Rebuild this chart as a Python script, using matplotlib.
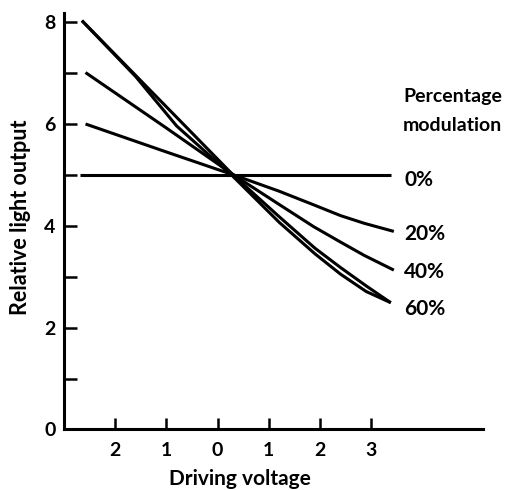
import matplotlib
matplotlib.use('Agg')
import matplotlib.pyplot as plt

# Data (driving voltage, relative light output)
x_0 = [-2.68, 3.38]
y_0 = [5.0, 5.0]

x_20 = [-2.58, -1.0, 0.31, 1.2, 1.88, 2.4, 2.86, 3.44]
y_20 = [6.0, 5.45, 5.0, 4.68, 4.41, 4.2, 4.05, 3.89]

x_40 = [-2.58, -1.0, 0.31, 1.2, 1.88, 2.4, 2.86, 3.44]
y_40 = [7.01, 5.92, 5.0, 4.42, 3.98, 3.68, 3.42, 3.13]

x_60a = [-2.65, -1.5, 0.3, 1.2, 1.9, 2.4, 2.9, 3.38]
y_60a = [8.03, 6.85, 5.0, 4.18, 3.56, 3.18, 2.82, 2.49]

x_60b = [-2.65, -1.6, -0.8, 0.3, 1.2, 1.9, 2.4, 2.9, 3.38]
y_60b = [8.03, 6.93, 5.96, 4.97, 4.07, 3.45, 3.05, 2.71, 2.49]

series_labels = ['0%', '20%', '40%', '60%']
label_y = [4.9, 3.84, 3.09, 2.37]

plt.rcParams['font.family'] = ['Lato', 'DejaVu Sans']
plt.rcParams['font.weight'] = 'bold'

fig = plt.figure(figsize=(5.1, 4.9), dpi=100)
ax = fig.add_axes([0.1255, 0.1235, 0.8215, 0.85])

lw = 2.2
for xs, ys in [(x_0, y_0), (x_20, y_20), (x_40, y_40), (x_60a, y_60a), (x_60b, y_60b)]:
    ax.plot(xs, ys, color='black', lw=lw, solid_capstyle='butt')

ax.set_xlim(-3.0, 5.18)
ax.set_ylim(0, 8.18)

ax.spines['top'].set_visible(False)
ax.spines['right'].set_visible(False)
ax.spines['left'].set_linewidth(2.2)
ax.spines['bottom'].set_linewidth(2.2)

ax.set_xticks([-2, -1, 0, 1, 2, 3])
ax.set_xticklabels(['2', '1', '0', '1', '2', '3'])
ax.set_yticks([0, 1, 2, 3, 4, 5, 6, 7, 8])
ax.set_yticklabels(['0', '', '2', '', '4', '', '6', '', '8'])
ax.tick_params(axis='y', direction='in', length=9.5, width=1.8, labelsize=14, pad=6)
ax.tick_params(axis='x', direction='in', length=8, width=1.8, labelsize=14, pad=9)
for lab in ax.get_xticklabels() + ax.get_yticklabels():
    lab.set_fontweight('bold')

ax.set_xlabel('Driving voltage', fontsize=15, fontweight='bold', va='baseline')
ax.xaxis.set_label_coords(0.42, -0.133)
ax.set_ylabel('Relative light output', fontsize=15.5, fontweight='bold', va='center')
ax.yaxis.set_label_coords(-0.105, 0.51)

ax.text(3.62, 6.53, 'Percentage', fontsize=14, fontweight='bold', va='center', ha='left')
ax.text(3.62, 5.98, 'modulation', fontsize=14, fontweight='bold', va='center', ha='left')
for lab, yy in zip(series_labels, label_y):
    ax.text(3.64, yy, lab, fontsize=15, fontweight='bold', va='center', ha='left')

fig.savefig('out.png', dpi=100)
